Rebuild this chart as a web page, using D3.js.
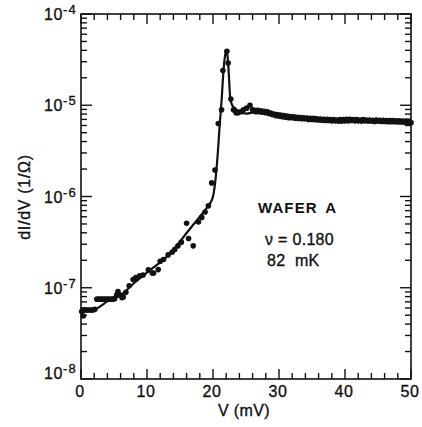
<!DOCTYPE html>
<html>
<head>
<meta charset="utf-8">
<script src="https://cdn.jsdelivr.net/npm/d3@7"></script>
<style>
  html, body { margin: 0; padding: 0; background: #fff; }
  svg { display: block; }
  text { font-family: "Liberation Sans", Arial, Helvetica, sans-serif; fill: #111; }
</style>
</head>
<body>
<svg id="chart" width="422" height="427"></svg>
<script>
// ---- data (V in mV, dI/dV in 1/Ω) ----
const pointV = [0.1, 0.35, 0.3, 0.6, 0.9, 1.2, 1.5, 1.8, 2.1,
  2.4, 2.7, 3.0, 3.3, 3.6, 3.9, 4.2, 4.5, 4.8, 5.1, 5.4,
  5.6, 6.0, 6.2, 6.4, 6.8, 7.3, 7.9, 8.3, 8.9, 9.4, 10.2, 10.8, 11.0, 11.7,
  12.0, 12.5, 13.2, 13.8, 14.2, 14.7, 15.2, 16.0, 16.3, 17.0, 17.8, 18.3,
  18.8, 19.3, 19.8, 20.3, 20.8, 21.3, 21.5, 22.1, 22.3, 22.7, 23.1, 23.5,
  23.8, 24.2, 24.6, 25.1, 25.6, 26.0];
const pointG = [5.5e-8, 4.9e-8, 5.7e-8, 5.7e-8, 5.7e-8, 5.7e-8, 5.7e-8, 5.7e-8, 5.8e-8,
  7.5e-8, 7.5e-8, 7.5e-8, 7.5e-8, 7.5e-8, 7.5e-8, 7.5e-8, 7.5e-8, 7.5e-8, 7.6e-8, 8.3e-8,
  9.1e-8, 8.3e-8, 7.8e-8, 7.9e-8, 8.9e-8, 1.05e-7, 1.23e-7, 1.29e-7, 1.35e-7, 1.38e-7, 1.57e-7, 1.45e-7, 1.45e-7, 1.58e-7,
  1.95e-7, 2.04e-7, 2.29e-7, 2.45e-7, 2.63e-7, 2.88e-7, 3.16e-7, 5.1e-7, 3.47e-7, 2.88e-7, 5.25e-7, 5.9e-7,
  6.76e-7, 7.9e-7, 1.41e-6, 1.95e-6, 6.3e-6, 8.9e-6, 2.4e-5, 3.9e-5, 2.9e-5, 1.17e-5, 8.9e-6, 8.3e-6,
  8.3e-6, 8.5e-6, 8.9e-6, 9.3e-6, 1.0e-5, 8.9e-6];

// dense high-bias points (two interleaved sweeps)
const tailV = [26.5, 27.0, 27.5, 28.0, 28.5, 29.0, 29.5, 30.0, 30.5, 31.0, 31.5, 32.0, 32.5, 33.0,
  33.5, 34.0, 34.5, 35.0, 35.5, 36.0, 36.5, 37.0, 37.5, 38.0, 38.5, 39.0, 39.5, 40.0, 40.5, 41.0,
  41.5, 42.0, 42.5, 43.0, 43.5, 44.0, 44.5, 45.0, 45.5, 46.0, 46.5, 47.0, 47.5, 48.0, 48.5, 49.0, 49.5, 50.0];
const tailG = [8.5e-6, 8.5e-6, 8.4e-6, 8.3e-6, 8.1e-6, 7.9e-6, 7.7e-6, 7.6e-6, 7.5e-6, 7.4e-6, 7.3e-6, 7.3e-6, 7.2e-6, 7.15e-6,
  7.1e-6, 7.1e-6, 7.0e-6, 7.0e-6, 6.95e-6, 6.9e-6, 6.85e-6, 6.8e-6, 6.8e-6, 6.75e-6, 6.75e-6, 6.7e-6, 6.7e-6, 6.75e-6, 6.75e-6, 6.8e-6,
  6.75e-6, 6.75e-6, 6.7e-6, 6.75e-6, 6.7e-6, 6.7e-6, 6.65e-6, 6.7e-6, 6.65e-6, 6.65e-6, 6.6e-6, 6.6e-6, 6.6e-6, 6.55e-6, 6.55e-6, 6.5e-6, 6.5e-6, 6.45e-6];
const tail2V = [26.25, 26.75, 27.25, 27.75, 28.25, 28.75, 29.25, 29.75, 30.25, 30.75, 31.25, 31.75, 32.25, 32.75,
  33.25, 33.75, 34.25, 34.75, 35.25, 35.75, 36.25, 36.75, 37.25, 37.75, 38.25, 38.75, 39.25, 39.75, 40.25, 40.75,
  41.25, 41.75, 42.25, 42.75, 43.25, 43.75, 44.25, 44.75, 45.25, 45.75, 46.25, 46.75, 47.25, 47.75, 48.25, 48.75, 49.25, 49.75];
const tail2G = [8.8e-6, 8.8e-6, 8.7e-6, 8.6e-6, 8.5e-6, 8.2e-6, 8.0e-6, 7.9e-6, 7.8e-6, 7.7e-6, 7.6e-6, 7.5e-6, 7.45e-6, 7.4e-6,
  7.35e-6, 7.3e-6, 7.25e-6, 7.2e-6, 7.2e-6, 7.1e-6, 7.05e-6, 7.0e-6, 7.0e-6, 6.95e-6, 6.95e-6, 6.9e-6, 6.95e-6, 6.95e-6, 7.0e-6, 7.0e-6,
  6.95e-6, 6.95e-6, 6.9e-6, 6.95e-6, 6.9e-6, 6.9e-6, 6.85e-6, 6.9e-6, 6.85e-6, 6.85e-6, 6.8e-6, 6.8e-6, 6.8e-6, 6.75e-6, 6.75e-6, 6.7e-6, 6.7e-6, 6.65e-6];

// fitted curve
const fitV = [0, 1.5, 2.5, 4, 6.4, 8, 9.9, 11.5, 13, 14.5, 16, 17, 18, 19, 19.5, 20.0, 20.4, 20.8, 21.0,
  21.3, 21.6, 21.85, 22.05, 22.2, 22.35, 22.6, 22.9, 23.3, 24, 25.1, 26, 28, 30, 33, 36, 40, 44, 47, 50];
const fitG = [5.75e-8, 5.75e-8, 6.0e-8, 7.1e-8, 8.7e-8, 1.12e-7, 1.45e-7, 1.78e-7, 2.19e-7, 2.88e-7, 3.98e-7, 4.9e-7, 6.0e-7, 7.4e-7, 8.3e-7, 1.0e-6, 1.58e-6, 3.55e-6, 5.9e-6,
  1.12e-5, 2.45e-5, 3.55e-5, 3.9e-5, 3.47e-5, 2.5e-5, 1.23e-5, 1.0e-5, 9.3e-6, 8.5e-6, 8.1e-6, 8.3e-6, 8.1e-6, 7.5e-6, 7.1e-6, 6.9e-6, 6.7e-6, 6.7e-6, 6.6e-6, 6.45e-6];

const xTicks = [0, 10, 20, 30, 40, 50];
const xMinor = d3.range(0, 51, 2);
const yExps = [-4, -5, -6, -7, -8];

const labels = { x: "V (mV)", y: "dI/dV (1/Ω)", title: "WAFER A", nu: "ν = 0.180", temp: "82  mK" };

// ---- layout ----
const L = 81, R = 411, T = 14, B = 379;
const svg = d3.select("#chart");
const x = d3.scaleLinear().domain([0, 50]).range([L, R]);
const y = d3.scaleLog().domain([1e-8, 1e-4]).range([B, T]);

const yMinor = [];
for (let e = -8; e < -4; e++) for (let m = 2; m <= 9; m++) yMinor.push(m * Math.pow(10, e));
const yMajor = yExps.map(e => Math.pow(10, e));

// ticks (inward on all four sides)
const tk = svg.append("g").attr("stroke", "#111").attr("stroke-width", 1.4);
function hTicks(vals, len) {
  tk.selectAll(null).data(vals).enter().append("line")
    .attr("x1", d => x(d)).attr("x2", d => x(d)).attr("y1", B).attr("y2", B - len);
  tk.selectAll(null).data(vals).enter().append("line")
    .attr("x1", d => x(d)).attr("x2", d => x(d)).attr("y1", T).attr("y2", T + len);
}
function vTicks(vals, len) {
  tk.selectAll(null).data(vals).enter().append("line")
    .attr("y1", d => y(d)).attr("y2", d => y(d)).attr("x1", L).attr("x2", L + len);
  tk.selectAll(null).data(vals).enter().append("line")
    .attr("y1", d => y(d)).attr("y2", d => y(d)).attr("x1", R).attr("x2", R - len);
}
hTicks(xMinor.filter(d => d % 10 !== 0), 6);
hTicks(xTicks, 10);
vTicks(yMinor, 6);
vTicks(yMajor, 11);

// frame
svg.append("rect").attr("x", L).attr("y", T).attr("width", R - L).attr("height", B - T)
  .attr("fill", "none").attr("stroke", "#111").attr("stroke-width", 1.6);

const heavy = sel => sel.attr("stroke", "#111").attr("stroke-width", 0.35);

// x tick labels
heavy(svg.append("g").selectAll("text").data(xTicks).enter().append("text")
  .attr("x", d => x(d) - 1).attr("y", 397)
  .attr("text-anchor", "middle").attr("font-size", 16).attr("letter-spacing", 0.6)
  .text(d => d));

// y tick labels (10 with superscript exponent)
const yl = svg.append("g").selectAll("text").data(yExps).enter().append("text")
  .attr("x", 77).attr("y", d => y(Math.pow(10, d)) + (d === -8 ? 0 : 6))
  .attr("text-anchor", "end").attr("font-size", 16).attr("letter-spacing", 0.6);
heavy(yl);
yl.append("tspan").text("10");
yl.append("tspan").attr("dy", -6).attr("font-size", 13).attr("letter-spacing", 1.2)
  .text(d => "-" + Math.abs(d));

// axis titles
heavy(svg.append("text").attr("x", 244).attr("y", 416).attr("text-anchor", "middle")
  .attr("font-size", 16).attr("letter-spacing", 0.4).text(labels.x));
heavy(svg.append("text").attr("transform", "translate(30,197) rotate(-90)")
  .attr("text-anchor", "middle").attr("font-size", 16).attr("letter-spacing", 0.7).text(labels.y));

// annotation
svg.append("text").attr("x", 258).attr("y", 213).attr("font-size", 15).attr("font-weight", "bold")
  .attr("letter-spacing", 1.1).attr("word-spacing", 3).text(labels.title);
heavy(svg.append("text").attr("x", 265).attr("y", 245).attr("font-size", 16).attr("letter-spacing", 0.3).text(labels.nu));
heavy(svg.append("text").attr("x", 267).attr("y", 266).attr("font-size", 16).attr("letter-spacing", 0.3)
  .style("white-space", "pre").text(labels.temp));

// fit line
const line = d3.line().x(d => x(d[0])).y(d => y(d[1])).curve(d3.curveMonotoneX);
svg.append("path").datum(fitV.map((v, i) => [v, fitG[i]]))
  .attr("d", line).attr("fill", "none").attr("stroke", "#111").attr("stroke-width", 2.2);

// data points
const pts = pointV.map((v, i) => [v, pointG[i]])
  .concat(tailV.map((v, i) => [v, tailG[i]]))
  .concat(tail2V.map((v, i) => [v, tail2G[i]]));
svg.append("g").selectAll("circle").data(pts).enter().append("circle")
  .attr("cx", d => x(d[0])).attr("cy", d => y(d[1])).attr("r", 2.8).attr("fill", "#111");
</script>
</body>
</html>
